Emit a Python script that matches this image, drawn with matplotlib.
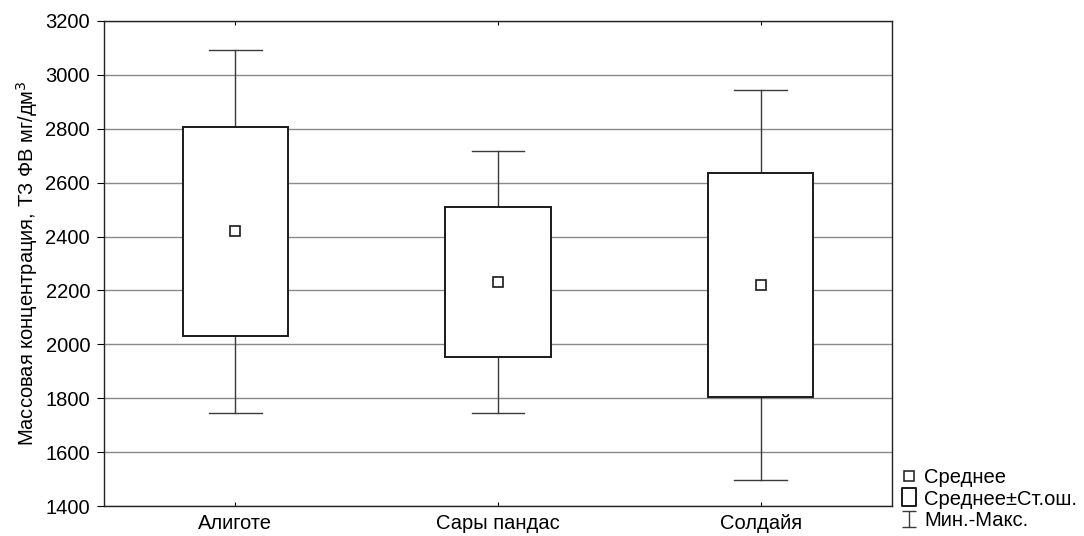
import numpy as np
import matplotlib.pyplot as plt
from matplotlib.patches import Rectangle
from matplotlib.lines import Line2D
from matplotlib.path import Path

plt.rcParams['font.family'] = ['Liberation Sans', 'DejaVu Sans']

categories = ['Алиготе', 'Сары пандас', 'Солдайя']
means = [2420, 2232, 2222]
se_low = [2030, 1952, 1804]
se_high = [2808, 2511, 2637]
v_min = [1744, 1745, 1498]
v_max = [3094, 2719, 2945]

yticks = [1400, 1600, 1800, 2000, 2200, 2400, 2600, 2800, 3000, 3200]

fs = 14.5

fig = plt.figure(figsize=(10.84, 5.36), dpi=100)
ax = fig.add_axes([104 / 1084, 30 / 536, 788 / 1084, 485 / 536])

box_w = 0.4
cap_w = 0.2
whisk_col = '#3a3a3a'
for i in range(len(categories)):
    # whiskers
    ax.plot([i, i], [se_high[i], v_max[i]], color=whisk_col, lw=1.0, zorder=3)
    ax.plot([i, i], [v_min[i], se_low[i]], color=whisk_col, lw=1.0, zorder=3)
    ax.plot([i - cap_w / 2, i + cap_w / 2], [v_max[i], v_max[i]], color=whisk_col, lw=1.0, zorder=3)
    ax.plot([i - cap_w / 2, i + cap_w / 2], [v_min[i], v_min[i]], color=whisk_col, lw=1.0, zorder=3)
    # box
    ax.add_patch(Rectangle((i - box_w / 2, se_low[i]), box_w, se_high[i] - se_low[i],
                           facecolor='white', edgecolor='#1a1a1a', lw=1.4, zorder=4))

ax.plot(range(len(categories)), means, ls='none', marker='s', ms=7.5,
        mfc='white', mec='#1a1a1a', mew=1.2, zorder=5)

ax.set_xlim(-0.5, len(categories) - 0.5)
ax.set_ylim(1400, 3200)
ax.set_yticks(yticks)
ax.set_xticks(range(len(categories)))
ax.set_xticklabels(categories)
ax.yaxis.grid(True, color='#8a8a8a', lw=1.0, zorder=0)
ax.set_axisbelow(True)
ax.tick_params(axis='y', direction='out', length=5, pad=5, labelsize=fs, width=0.8)
ax.tick_params(axis='x', direction='in', length=3, top=True, labelsize=fs, width=0.8, pad=6)
for s in ax.spines.values():
    s.set_linewidth(1.0)
    s.set_color('#222222')

ax.set_ylabel('Массовая концентрация, ТЗ ФВ мг/дм$^3$', fontsize=fs, labelpad=4)

# legend
ibeam = Path([(-0.4, 0.5), (0.4, 0.5), (0, 0.5), (0, -0.5), (-0.4, -0.5), (0.4, -0.5)],
             [Path.MOVETO, Path.LINETO, Path.MOVETO, Path.LINETO, Path.MOVETO, Path.LINETO])
tall_box = Path([(-0.38, -0.5), (0.38, -0.5), (0.38, 0.5), (-0.38, 0.5), (-0.38, -0.5)],
                [Path.MOVETO, Path.LINETO, Path.LINETO, Path.LINETO, Path.CLOSEPOLY])
handles = [
    Line2D([], [], ls='none', marker='s', ms=7, mfc='white', mec='#1a1a1a', mew=1.1),
    Line2D([], [], ls='none', marker=tall_box, ms=13, mfc='white', mec='#1a1a1a', mew=1.4),
    Line2D([], [], ls='none', marker=ibeam, ms=12, mfc='none', mec='#3a3a3a', mew=1.0),
]
labels = ['Среднее', 'Среднее±Ст.ош.', 'Мин.-Макс.']
fig.legend(handles, labels, loc='lower left', bbox_to_anchor=(894 / 1084, 0.0),
           frameon=False, fontsize=fs, handlelength=0.9, handletextpad=0.3,
           labelspacing=0.12, borderaxespad=0, borderpad=0.3)

fig.savefig('out.png', dpi=100)
